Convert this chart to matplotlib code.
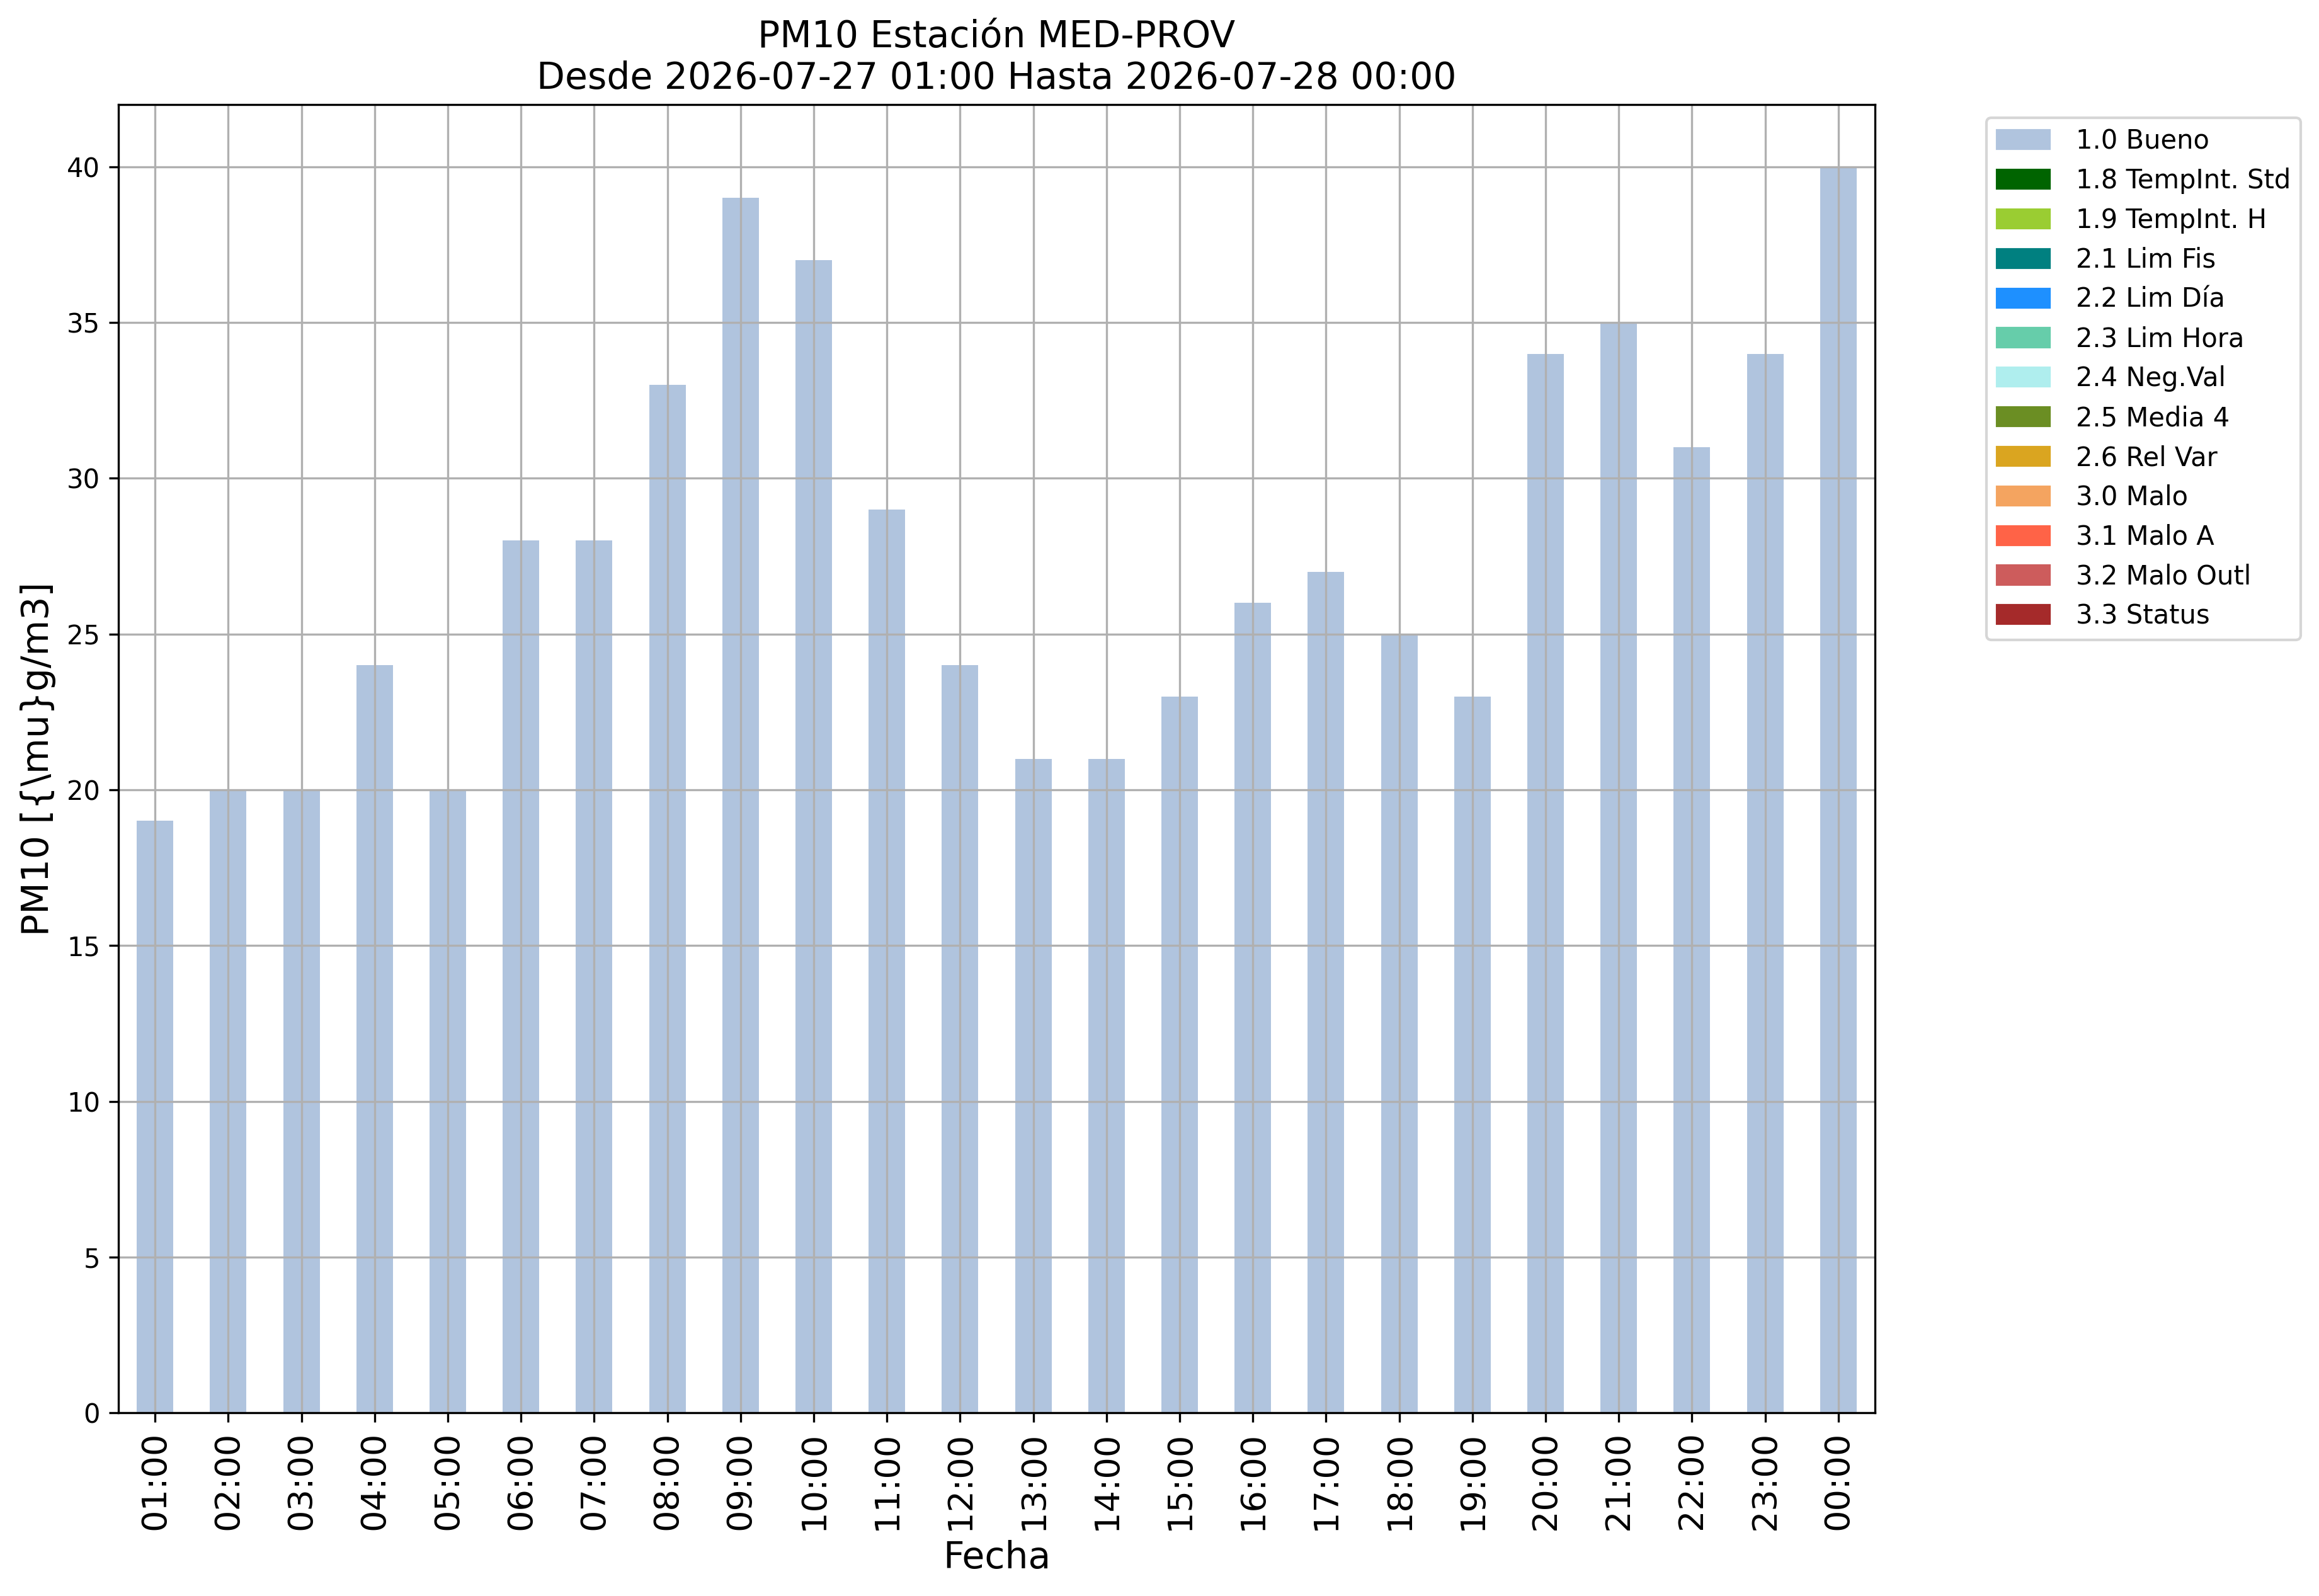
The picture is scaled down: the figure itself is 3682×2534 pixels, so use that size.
import matplotlib
matplotlib.use("Agg")
import matplotlib.pyplot as plt
import matplotlib.patches as mpatches
import numpy as np

# datos horarios PM10
horas = ["01:00", "02:00", "03:00", "04:00", "05:00", "06:00", "07:00", "08:00",
         "09:00", "10:00", "11:00", "12:00", "13:00", "14:00", "15:00", "16:00",
         "17:00", "18:00", "19:00", "20:00", "21:00", "22:00", "23:00", "00:00"]
valores = [19, 20, 20, 24, 20, 28, 28, 33, 39, 37, 29, 24, 21, 21, 23, 26,
           27, 25, 23, 34, 35, 31, 34, 40]

# banderas de calidad
flags = ["1.0 Bueno", "1.8 TempInt. Std", "1.9 TempInt. H", "2.1 Lim Fis",
         "2.2 Lim Día", "2.3 Lim Hora", "2.4 Neg.Val", "2.5 Media 4",
         "2.6 Rel Var", "3.0 Malo", "3.1 Malo A", "3.2 Malo Outl", "3.3 Status"]
flag_colors = ["lightsteelblue", "darkgreen", "yellowgreen", "teal", "dodgerblue",
               "mediumaquamarine", "paleturquoise", "olivedrab", "goldenrod",
               "sandybrown", "tomato", "indianred", "brown"]

fig = plt.figure(figsize=(3682 / 300, 2534 / 300), dpi=300)
ax = fig.add_axes([0.0511, 0.1148, 0.8085 - 0.0511, 0.9345 - 0.1148])

x = np.arange(len(horas))
ax.bar(x, valores, width=0.5, color=flag_colors[0])
ax.set_xlim(-0.5, len(horas) - 0.5)
ax.set_ylim(0, 42)
ax.set_xticks(x)
ax.set_xticklabels(horas, rotation=90, fontsize=13)
ax.tick_params(axis="y", labelsize=10)
ax.grid(True)

ax.set_xlabel("Fecha", fontsize=14)
ax.set_ylabel("PM10 [{\\mu}g/m3]", fontsize=14)
ax.set_title("PM10 Estación MED-PROV\nDesde 2026-07-27 01:00 Hasta 2026-07-28 00:00",
             fontsize=14)

handles = [mpatches.Patch(color=c, label=l) for c, l in zip(flag_colors, flags)]
ax.legend(handles=handles, bbox_to_anchor=(1.056, 1), loc="upper left", fontsize=10,
          handletextpad=1.0)

fig.savefig("out.png", dpi=300)
